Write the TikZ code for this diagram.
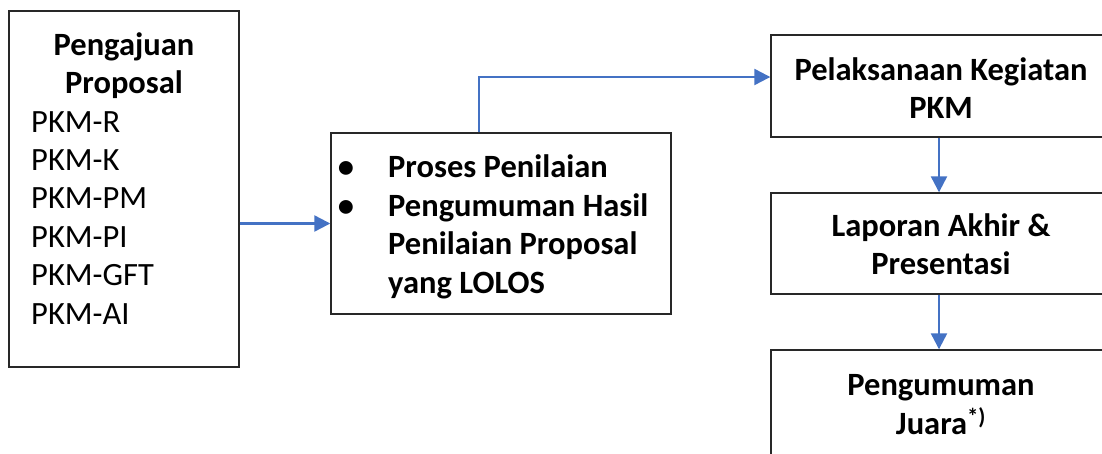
\documentclass[tikz,border=0pt]{standalone}
\usepackage{fontspec}
\setmainfont{Carlito}
\usetikzlibrary{arrows.meta}
\definecolor{arrblue}{RGB}{68,114,196}
\definecolor{boxline}{RGB}{40,40,40}
\tikzset{
  box/.style={draw=boxline, line width=1.4pt, rectangle, inner sep=0pt},
  arr/.style={draw=arrblue, line width=2.3pt, -{Triangle[length=16pt,width=16pt]}},
  txt/.style={font=\fontsize{32.5}{38}\selectfont, inner sep=0pt},
  btxt/.style={font=\fontsize{32.5}{38}\selectfont\bfseries, inner sep=0pt},
}
\begin{document}
\begin{tikzpicture}[x=1pt,y=-1pt]
\useasboundingbox (0,0) rectangle (1102,453);
\clip (0,0) rectangle (1102,453);
% boxes
\node[box, minimum width=230pt, minimum height=356pt] (b1) at (124,189) {};
\node[box, minimum width=340pt, minimum height=181pt] (b2) at (501,223.5) {};
\node[box, minimum width=340pt, minimum height=102pt] (b3) at (941,86) {};
\node[box, minimum width=340pt, minimum height=101pt] (b4) at (941,243.5) {};
\node[box, minimum width=340pt, minimum height=120pt] (b5) at (941,410) {};
% box 1 text
\node[btxt, anchor=base] (t11) at (124,55) {Pengajuan};
\node[btxt, anchor=base] (t12) at (124,93) {Proposal};
\foreach \s [count=\i] in {PKM-R,PKM-K,PKM-PM,PKM-PI,PKM-GFT,PKM-AI}{
  \node[txt, anchor=base west] (l\i) at (31,{132+38.4*(\i-1)}) {\s};
}
% box 2 text
\node[btxt, anchor=base] (u1) at (346,177) {\textbullet};
\node[btxt, anchor=base] (u2) at (346,216) {\textbullet};
\node[btxt, anchor=base west] (s1) at (388,177) {Proses Penilaian};
\node[btxt, anchor=base west] (s2) at (388,216) {Pengumuman Hasil};
\node[btxt, anchor=base west] (s3) at (388,254) {Penilaian Proposal};
\node[btxt, anchor=base west] (s4) at (388,293) {yang LOLOS};
% box 3-5 text
\node[btxt, anchor=base] (p1) at (941,80) {Pelaksanaan Kegiatan};
\node[btxt, anchor=base] (p2) at (941,118) {PKM};
\node[btxt, anchor=base] (q1) at (941,236) {Laporan Akhir \&};
\node[btxt, anchor=base] (q2) at (941,274) {Presentasi};
\node[btxt, anchor=base] (r1) at (941,395) {Pengumuman};
\node[btxt, anchor=base] (r2) at (941,434) {Juara\textsuperscript{*)}};
% connectors
\coordinate (k) at (479,77);
\draw[arr] (b1.east |- b2.west) -- (b2.west);
\draw[arr] (b2.north -| k) -- (k) -- (b3.west |- k);
\draw[arr] (b3.south -| 939,0) -- (b4.north -| 939,0);
\draw[arr] (b4.south -| 939,0) -- (b5.north -| 939,0);
\end{tikzpicture}
\end{document}
